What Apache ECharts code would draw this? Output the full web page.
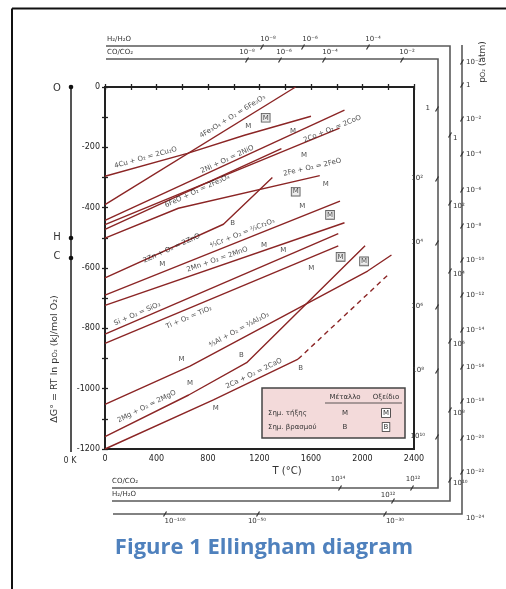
<!DOCTYPE html>
<html><head><meta charset="utf-8">
<script src="https://cdn.jsdelivr.net/npm/echarts/dist/echarts.min.js"></script>
<style>html,body{margin:0;padding:0;background:#fff}#c{width:506px;height:589px}</style>
</head><body><div id="c"></div>
<script>
// ---------- data (T in °C, ΔG in kJ/mol O2) ----------
const cuLine    = [[0,-296],[640,-220],[1083,-160],[1600,-97]];
const fe3o4Line = [[0,-390],[1480,0]];
const niLine    = [[0,-442],[1860,-77]];
const coLine    = [[0,-456],[1822,-136]];
const feoLine   = [[0,-472],[1370,-204]];
const feLine    = [[0,-501],[570,-402],[1668,-294]];
const znLine    = [[0,-633],[920,-455],[1300,-300]];
const crLine    = [[0,-690],[1825,-378]];
const mnLine    = [[0,-724],[1860,-450]];
const siLine    = [[0,-819],[1812,-486]];
const tiLine    = [[0,-850],[1812,-527]];
const alLine    = [[0,-1052],[660,-925],[2040,-610],[2225,-557]];
const mgLine    = [[0,-1159],[650,-1021],[1100,-914],[2020,-526]];
const caLine    = [[0,-1200],[842,-1037],[1500,-902]];
const caDashed  = [[1500,-902],[2210,-618]];

const reactionLines = [cuLine, fe3o4Line, niLine, coLine, feoLine, feLine, znLine, crLine, mnLine, siLine, tiLine, alLine, mgLine, caLine];
const reactionNames = ['4Cu + O₂ = 2Cu₂O','4Fe₃O₄ + O₂ = 6Fe₂O₃','2Ni + O₂ = 2NiO','2Co + O₂ = 2CoO','6FeO + O₂ = 2Fe₃O₄','2Fe + O₂ = 2FeO','2Zn + O₂ = 2ZnO','⁴⁄₃Cr + O₂ = ²⁄₃Cr₂O₃','2Mn + O₂ = 2MnO','Si + O₂ = SiO₂','Ti + O₂ = TiO₂','⁴⁄₃Al + O₂ = ²⁄₃Al₂O₃','2Mg + O₂ = 2MgO','2Ca + O₂ = 2CaO'];
const nameT = [316, 991, 950, 1766, 717, 1610, 518, 1067, 872, 251, 652, 1041, 324, 1157];
const nameG = [-234, -98, -240, -139, -345, -266, -535, -485, -572, -752, -764, -805, -1059, -950];

const metalMelt   = [[1113,-130],[1460,-145],[1546,-225],[1714,-321],[445,-588],[1533,-396],[1235,-523],[1385,-541],[1603,-599],[595,-903],[660,-983],[860,-1065]];
const oxideMelt   = [[1248,-102],[1481,-347],[1748,-424],[1830,-563],[2012,-578]];
const metalBoil   = [[991,-450],[1059,-888],[1520,-931]];

const topH2Labels   = ['10⁻⁸','10⁻⁶','10⁻⁴'];
const topCOLabels   = ['10⁻⁸','10⁻⁶','10⁻⁴','10⁻²'];
const rightCOLabels = ['1','10²','10⁴','10⁶','10⁸','10¹⁰'];
const rightH2Labels = ['1','10²','10⁴','10⁶','10⁸','10¹⁰'];
const pO2Labels     = ['10⁻²','1','10⁻²','10⁻⁴','10⁻⁶','10⁻⁸','10⁻¹⁰','10⁻¹²','10⁻¹⁴','10⁻¹⁶','10⁻¹⁸','10⁻²⁰','10⁻²²','10⁻²⁴'];
const botCOLabels   = ['10¹⁴','10¹²'];
const botH2Labels   = ['10¹²'];
const botPO2Labels  = ['10⁻¹⁰⁰','10⁻⁵⁰','10⁻³⁰'];

// ---------- layout ----------
const G = {left:105, top:87, width:309, height:362};
const KX = G.width/2400, KY = G.height/1200;
const RED = '#8b2525', GREY = '#5a5a5a', FONT = 'DejaVu Sans';

function slopeAt(line, t){
  for (let i=0;i<line.length-1;i++){
    if (t<=line[i+1][0] || i===line.length-2) return (line[i+1][1]-line[i][1])/(line[i+1][0]-line[i][0]);
  }
}
function rot(line,t){ return Math.atan(slopeAt(line,t)*KY/KX)*180/Math.PI; }

const series = [];
reactionLines.forEach(l => series.push({type:'line', data:l, symbol:'none', silent:true,
  lineStyle:{color:RED, width:1.4}, xAxisIndex:0, yAxisIndex:0, z:3}));
series.push({type:'line', data:caDashed, symbol:'none', silent:true,
  lineStyle:{color:RED, width:1.4, type:[5,4]}, z:3});
series.push({type:'scatter', symbolSize:0, silent:true, z:5,
  data: reactionNames.map((n,i)=>({value:[nameT[i],nameG[i]], label:{formatter:n, rotate:rot(reactionLines[i],nameT[i])}})),
  label:{show:true, position:'inside', fontSize:7, color:'#222', fontFamily:FONT}});
series.push({type:'scatter', symbolSize:0, silent:true, z:5, data:metalMelt,
  label:{show:true, position:'inside', formatter:'M', fontSize:7, color:'#222', fontFamily:FONT}});
series.push({type:'scatter', symbolSize:0, silent:true, z:5, data:metalBoil,
  label:{show:true, position:'inside', formatter:'B', fontSize:7, color:'#222', fontFamily:FONT}});
series.push({type:'scatter', symbolSize:0, silent:true, z:5, data:oxideMelt,
  label:{show:true, position:'inside', formatter:'M', fontSize:7, color:'#222', fontFamily:FONT,
    borderColor:'#333', borderWidth:0.8, backgroundColor:'#e8e8e8', padding:[1,1,0,1]}});

// ---------- nomogram scales (decoration) ----------
const gr = [];
function line(pts, w, c){ gr.push({type:'polyline', shape:{points:pts}, style:{stroke:c||GREY, lineWidth:w||1.6, fill:null}, silent:true, z:10}); }
function txt(x,y,t,o){ gr.push({type:'text', x, y, silent:true, z:13, style:Object.assign({text:t, fill:'#333', font:'7px "DejaVu Sans"', textAlign:'center', textVerticalAlign:'middle'}, o||{})}); }
function tick(x,y){ line([[x-1.5,y+2.5],[x+1.5,y-2.5]],1.2,'#333'); }

// page frame
line([[12,8.5],[506,8.5]],2,'#111');
line([[12,8.5],[12,589]],2,'#111');
// H2/H2O
line([[106,46],[450,46],[450,501],[112,501]]);
// CO/CO2
line([[106,59],[438,59],[438,488],[112,488]]);
// pO2
line([[113,514],[462,514],[462,45]]);
// left O-H-C axis
line([[71,87],[71,452]],2,'#555');
[87,238,258].forEach(y=>gr.push({type:'circle', shape:{cx:71, cy:y, r:2.3}, style:{fill:'#111'}, z:12, silent:true}));
txt(57,88,'O',{font:'10px "DejaVu Sans"'});
txt(57,237,'H',{font:'10px "DejaVu Sans"'});
txt(57,256,'C',{font:'10px "DejaVu Sans"'});
txt(70,461,'0 K',{font:'8px "DejaVu Sans"'});

txt(107,39,'H₂/H₂O',{textAlign:'left'});
txt(107,52,'CO/CO₂',{textAlign:'left'});
txt(112,481,'CO/CO₂',{textAlign:'left'});
txt(112,494,'H₂/H₂O',{textAlign:'left'});

const topH2X = [268,310,373], topH2T = [262,303,368];
topH2Labels.forEach((s,i)=>{ txt(topH2X[i],39,s); tick(topH2T[i],47); });
const topCOX = [247,284,330,407], topCOT = [247,280,324,402];
topCOLabels.forEach((s,i)=>{ txt(topCOX[i],52,s); tick(topCOT[i],60); });
const rCOY = [108,178,242,306,370,436], rCOX = [430,423,423,423,424,425];
rightCOLabels.forEach((s,i)=>{ txt(rCOX[i],rCOY[i],s,{textAlign:'right'}); tick(437,rCOY[i]+1); });
const rH2Y = [135,203,271,341,410,480];
rightH2Labels.forEach((s,i)=>{ txt(453,rH2Y[i]+3,s,{textAlign:'left'}); tick(450,rH2Y[i]); });
const pY = [62,85,119,154,190,226,260,295,330,367,401,438,472,518];
pO2Labels.forEach((s,i)=>{ txt(466,pY[i],s,{textAlign:'left'}); if(i<13) tick(462,pY[i]); });
gr.push({type:'text', x:483, y:62, rotation:Math.PI/2, silent:true, z:13,
  style:{text:'p{s|O₂} (atm)', font:'9px "DejaVu Sans"', fill:'#333', textAlign:'center', textVerticalAlign:'middle',
  rich:{s:{fontSize:7, fontFamily:FONT, fill:'#333'}}}});
const bCOX = [338,413], bCOT = [340,412];
botCOLabels.forEach((s,i)=>{ txt(bCOX[i],479,s); tick(bCOT[i],488); });
txt(388,495,botH2Labels[0]); tick(393,501);
const bPX = [175,257,395], bPT = [165,258,385];
botPO2Labels.forEach((s,i)=>{ txt(bPX[i],521,s); tick(bPT[i],514); });

// axis titles
txt(287,471,'T (°C)',{font:'10px "DejaVu Sans"'});
gr.push({type:'text', x:55, y:359, rotation:Math.PI/2, silent:true, z:13,
  style:{text:'ΔG° = RT ln p{s|O₂} (kJ/mol O₂)', font:'9.5px "DejaVu Sans"', fill:'#333', textAlign:'center', textVerticalAlign:'middle',
  rich:{s:{fontSize:7, fontFamily:FONT, fill:'#333'}}}});

// legend box
gr.push({type:'rect', shape:{x:262, y:388, width:143, height:50}, style:{fill:'#f3dada', stroke:'#444', lineWidth:1.5}, z:12, silent:true});
txt(345,397,'Μέταλλο');
txt(386,397,'Οξείδιο');
line([[325,403],[402,403]],0.8,'#333');
gr[gr.length-1].z = 13;
txt(268,413,'Σημ. τήξης',{textAlign:'left'});
txt(345,413,'M');
txt(386,413,'M',{borderColor:'#333', borderWidth:0.8, padding:[1,1,0,1], backgroundColor:'#fff'});
txt(268,427,'Σημ. βρασμού',{textAlign:'left'});
txt(345,427,'B');
txt(386,427,'B',{borderColor:'#333', borderWidth:0.8, padding:[1,1,0,1], backgroundColor:'#fff'});

// caption
gr.push({type:'text', x:264, y:548, silent:true, z:13,
  style:{text:'Figure 1 Ellingham diagram', font:'bold 22px "Open Sans"', fill:'#4f81bd', textAlign:'center', textVerticalAlign:'middle'}});

const axLab = {fontSize:8, color:'#222', fontFamily:FONT};
const option = {
  animation:false,
  grid:{left:G.left, top:G.top, width:G.width, height:G.height, show:true, borderColor:'#222', borderWidth:2, containLabel:false},
  xAxis:[
    {type:'value', min:0, max:2400, interval:200, position:'bottom',
     axisLine:{lineStyle:{color:'#222', width:2}}, axisTick:{length:3, lineStyle:{color:'#222', width:1.3}},
     axisLabel:Object.assign({margin:6, formatter:v=> v%400===0 ? String(v) : ''}, axLab), splitLine:{show:false}},
    {type:'value', min:0, max:2400, interval:200, position:'bottom', offset:0,
     axisLine:{show:false}, axisTick:{inside:true, length:3, lineStyle:{color:'#222', width:1.3}},
     axisLabel:{show:false}, splitLine:{show:false}}
  ],
  yAxis:[
    {type:'value', min:-1200, max:0, interval:100, position:'left',
     axisLine:{lineStyle:{color:'#222', width:2}}, axisTick:{length:3, lineStyle:{color:'#222', width:1.3}},
     axisLabel:Object.assign({margin:5, formatter:v=> v%200===0 ? String(v) : ''}, axLab), splitLine:{show:false}},
    {type:'value', min:-1200, max:0, interval:100, position:'left', offset:0,
     axisLine:{show:false}, axisTick:{inside:true, length:3, lineStyle:{color:'#222', width:1.3}},
     axisLabel:{show:false}, splitLine:{show:false}}
  ],
  series: series,
  graphic: gr
};
const chart = echarts.init(document.getElementById('c'));
chart.setOption(option);
</script></body></html>
